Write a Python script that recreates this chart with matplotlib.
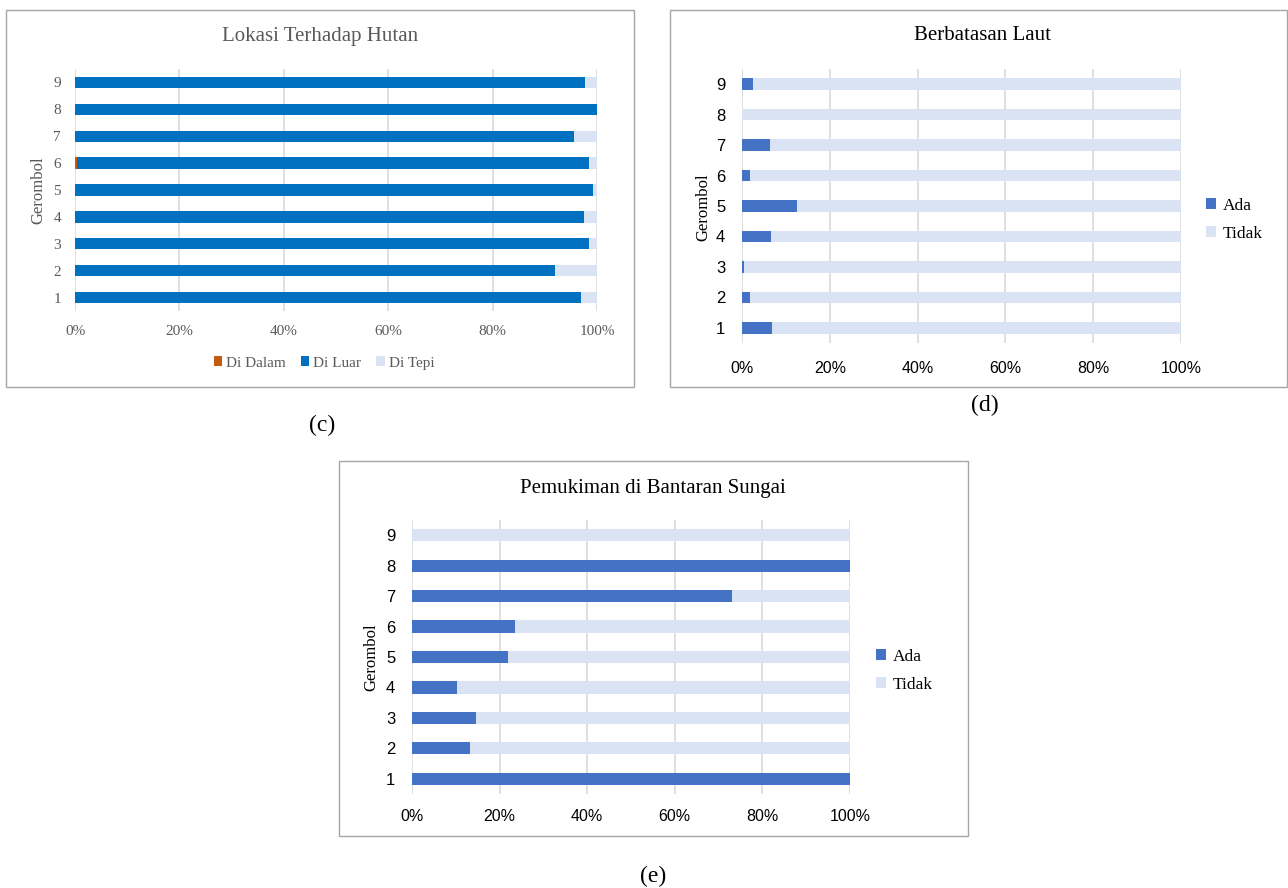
import numpy as np
import matplotlib.pyplot as plt
from matplotlib.patches import Rectangle
from matplotlib.ticker import PercentFormatter

W, H = 1288, 888

clusters = np.arange(1, 10)

# Lokasi terhadap hutan (share per cluster)
hutan_dalam = [0.0, 0.0, 0.0, 0.0, 0.0, 0.004, 0.0, 0.0, 0.0]
hutan_luar = [0.970, 0.920, 0.984, 0.976, 0.993, 0.980, 0.956, 1.0, 0.977]
hutan_tepi = [1 - d - l for d, l in zip(hutan_dalam, hutan_luar)]

# Berbatasan laut
laut_ada = [0.068, 0.019, 0.005, 0.065, 0.126, 0.019, 0.063, 0.0, 0.026]
laut_tidak = [1 - a for a in laut_ada]

# Pemukiman di bantaran sungai
sungai_ada = [1.0, 0.132, 0.147, 0.103, 0.219, 0.235, 0.731, 1.0, 0.0]
sungai_tidak = [1 - a for a in sungai_ada]

ORANGE = '#C55A11'
BLUE_C = '#0070C0'
BLUE = '#4472C4'
LIGHT = '#DAE3F3'
GRID = '#D9D9D9'

SERIF = 'Liberation Serif'
SANS = 'Liberation Sans'


def fx(px):
    return px / W


def fy(py):
    return 1 - py / H


def add_box(x0, y0, x1, y1):
    fig.patches.append(Rectangle((fx(x0), fy(y1)), fx(x1) - fx(x0), fy(y0) - fy(y1),
                                 transform=fig.transFigure, fill=False,
                                 edgecolor='#A6A6A6', linewidth=1.0))


def stacked_panel(rect, series, colors, labels, bar_h, tick_font, xsize, ysize,
                  text_color, xpad, ypad):
    x0, y0, x1, y1 = rect
    ax = fig.add_axes([fx(x0), fy(y1), fx(x1) - fx(x0), fy(y0) - fy(y1)])
    left = np.zeros(len(clusters))
    for vals, col, lab in zip(series, colors, labels):
        ax.barh(clusters, vals, left=left, height=bar_h, color=col, label=lab, zorder=2)
        left += np.array(vals)
    ax.set_xlim(0, 1)
    ax.set_ylim(0.5, 9.5)
    ax.set_xticks(np.linspace(0, 1, 6))
    ax.set_yticks(clusters)
    ax.xaxis.set_major_formatter(PercentFormatter(1.0, decimals=0))
    ax.grid(axis='x', color=GRID, linewidth=1.2, zorder=0)
    for s in ax.spines.values():
        s.set_visible(False)
    ax.tick_params(length=0, colors=text_color)
    ax.tick_params(axis='x', pad=xpad, labelsize=xsize)
    ax.tick_params(axis='y', pad=ypad, labelsize=ysize)
    for t in ax.get_xticklabels() + ax.get_yticklabels():
        t.set_fontfamily(tick_font)
    return ax


def side_legend(ax, x, y):
    ax.legend(loc='center left', bbox_to_anchor=(fx(x), fy(y)),
              bbox_transform=fig.transFigure, frameon=False,
              borderaxespad=0, borderpad=0,
              handlelength=0.6, handleheight=0.6, handletextpad=0.35,
              labelspacing=0.7, prop={'family': SERIF, 'size': 12.5})


fig = plt.figure(figsize=(W / 100, H / 100), dpi=100)

# (c) Lokasi Terhadap Hutan
add_box(6, 10, 634, 387)
gray_txt = '#595959'
ax_c = stacked_panel((75, 69, 597, 311), [hutan_dalam, hutan_luar, hutan_tepi],
                     [ORANGE, BLUE_C, LIGHT], ['Di Dalam', 'Di Luar', 'Di Tepi'],
                     0.42, SERIF, 11, 11, gray_txt, 10, 10)
fig.text(fx(320), fy(36), 'Lokasi Terhadap Hutan', family=SERIF, size=15,
         color=gray_txt, ha='center', va='center')
fig.text(fx(38), fy(190), 'Gerombol', family=SERIF, size=12, color=gray_txt,
         rotation=90, ha='center', va='center')
ax_c.legend(loc='center', bbox_to_anchor=(fx(324), fy(363)),
            bbox_transform=fig.transFigure, ncol=3, frameon=False,
            borderaxespad=0, borderpad=0,
            handlelength=0.55, handleheight=0.55, handletextpad=0.25,
            columnspacing=1.0, prop={'family': SERIF, 'size': 11},
            labelcolor=gray_txt)
fig.text(fx(322), fy(425), '(c)', family=SERIF, size=17, ha='center', va='center')

# (d) Berbatasan Laut
add_box(670, 10, 1287, 387)
ax_d = stacked_panel((742, 69, 1181, 343), [laut_ada, laut_tidak],
                     [BLUE, LIGHT], ['Ada', 'Tidak'],
                     0.38, SANS, 11.5, 12, 'black', 13, 12)
fig.text(fx(983), fy(36), 'Berbatasan Laut', family=SERIF, size=15,
         ha='center', va='center')
fig.text(fx(703), fy(207), 'Gerombol', family=SERIF, size=12,
         rotation=90, ha='center', va='center')
side_legend(ax_d, 1206, 220)
fig.text(fx(985), fy(405), '(d)', family=SERIF, size=17, ha='center', va='center')

# (e) Pemukiman di Bantaran Sungai
add_box(339, 461, 968, 836)
ax_e = stacked_panel((412, 520, 850, 794), [sungai_ada, sungai_tidak],
                     [BLUE, LIGHT], ['Ada', 'Tidak'],
                     0.40, SANS, 11.5, 12, 'black', 11, 12)
fig.text(fx(653), fy(488), 'Pemukiman di Bantaran Sungai', family=SERIF, size=15,
         ha='center', va='center')
fig.text(fx(371), fy(657), 'Gerombol', family=SERIF, size=12,
         rotation=90, ha='center', va='center')
side_legend(ax_e, 876, 671)
fig.text(fx(653), fy(876), '(e)', family=SERIF, size=17, ha='center', va='center')

fig.savefig('out.png', dpi=100)
